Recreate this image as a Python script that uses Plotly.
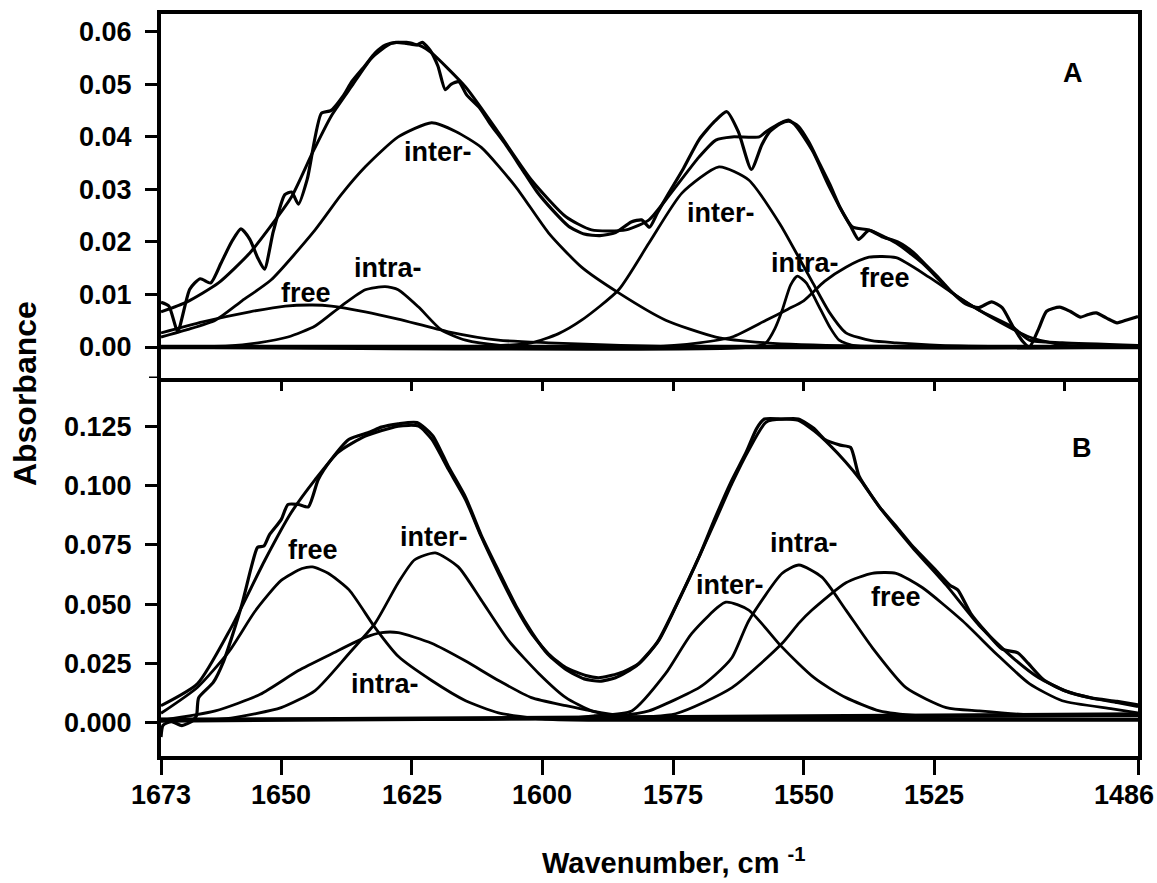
import plotly.graph_objects as go

# ---------------- Panel A data (wavenumber, absorbance) ----------------
a_meas_wn = [1673, 1671.5, 1669.8, 1667.5, 1665.5, 1663.5, 1661.5, 1659.5, 1657.7, 1656, 1654.5, 1653.2,
             1651.5, 1649.3, 1648, 1646.7, 1645, 1642.3, 1640.5, 1638, 1636.5, 1634, 1632, 1630, 1628, 1626,
             1624, 1623, 1621.5, 1620, 1618.6, 1617.5, 1616, 1614.5, 1612, 1610, 1607, 1604, 1601, 1598,
             1595, 1592, 1589, 1586, 1583, 1581, 1579.5, 1578, 1576, 1573, 1570, 1567, 1564.7, 1562.5, 1560,
             1558, 1556.5, 1554.5, 1552.8, 1551, 1549, 1547, 1545, 1543, 1541, 1539.5, 1537.5, 1535, 1532,
             1529, 1527, 1524, 1521.5, 1519, 1516.5, 1514, 1512, 1510, 1508, 1506.8, 1505, 1503.5, 1501,
             1499, 1497, 1495.5, 1494, 1492, 1490, 1488, 1486]
a_meas_abs = [0.0085, 0.0078, 0.0030, 0.0110, 0.0130, 0.0122, 0.0160, 0.0200, 0.0225, 0.0205, 0.0170, 0.0148,
              0.0220, 0.0290, 0.0295, 0.0272, 0.0320, 0.0445, 0.0450, 0.0480, 0.0505, 0.0535, 0.0560, 0.0575,
              0.0580, 0.0578, 0.0575, 0.0580, 0.0565, 0.0535, 0.0490, 0.0500, 0.0505, 0.0480, 0.0455, 0.0425,
              0.0385, 0.0340, 0.0295, 0.0260, 0.0230, 0.0215, 0.0212, 0.0218, 0.0238, 0.0242, 0.0228, 0.0255,
              0.0290, 0.0340, 0.0395, 0.0430, 0.0448, 0.0410, 0.0338, 0.0385, 0.0410, 0.0425, 0.0430, 0.0420,
              0.0390, 0.0350, 0.0310, 0.0265, 0.0230, 0.0205, 0.0222, 0.0210, 0.0200, 0.0180, 0.0160, 0.0130,
              0.0103, 0.0082, 0.0075, 0.0086, 0.0075, 0.0040, 0.0010, 0.0000, 0.0035, 0.0068, 0.0076, 0.0068,
              0.0057, 0.0062, 0.0065, 0.0055, 0.0046, 0.0052, 0.0058]

a_sum_wn = [1673, 1668, 1662, 1656, 1652, 1648, 1644, 1640.4, 1636.6, 1632.7, 1628.9, 1626, 1623, 1621.2,
            1614.7, 1608.4, 1602.1, 1595.5, 1590.6, 1584, 1579.6, 1576.4, 1570, 1566.8, 1563.7, 1558.5, 1557.2,
            1552.8, 1548.4, 1545.1, 1540.7, 1537.5, 1532.3, 1527.3, 1521.5, 1516.4, 1510, 1506.8, 1500.5, 1486]
a_sum_abs = [0.0067, 0.0086, 0.0122, 0.0179, 0.0230, 0.0286, 0.0370, 0.0440, 0.0495, 0.0550, 0.0578, 0.0580,
             0.0572, 0.0560, 0.0495, 0.0408, 0.0318, 0.0248, 0.0223, 0.0223, 0.0242, 0.0280, 0.0362, 0.0394,
             0.0400, 0.0400, 0.0410, 0.0432, 0.0375, 0.0305, 0.0229, 0.0223, 0.0198, 0.0160, 0.0103, 0.0070,
             0.0038, 0.0013, 0.0008, 0.0003]

a_inter1_wn = [1673, 1668, 1662.6, 1657.5, 1651.9, 1643.5, 1638.5, 1633.9, 1627.6, 1621.2, 1616.5, 1611.7,
               1605.1, 1598.8, 1592.5, 1585.4, 1576.4, 1566.8, 1557.2, 1540, 1486]
a_inter1_abs = [0.0019, 0.0033, 0.0051, 0.0088, 0.0128, 0.0223, 0.0290, 0.0343, 0.0400, 0.0427, 0.0410, 0.0380,
                0.0305, 0.0217, 0.0152, 0.0103, 0.0051, 0.0019, 0.0008, 0.0002, 0.0]

a_intra1_wn = [1673, 1660, 1654.4, 1648.7, 1643.5, 1638.5, 1633.9, 1630.1, 1627.6, 1623.7, 1619.3, 1614.7,
               1608, 1600, 1486]
a_intra1_abs = [0.0, 0.0002, 0.0008, 0.0019, 0.0040, 0.0078, 0.0109, 0.0115, 0.0109, 0.0076, 0.0032, 0.0013,
                0.0003, 0.0, 0.0]

a_free1_wn = [1673, 1665, 1656, 1649.2, 1644, 1640.4, 1633.9, 1627.6, 1618, 1608.4, 1598.8, 1585, 1570, 1486]
a_free1_abs = [0.0027, 0.0048, 0.0067, 0.0078, 0.0080, 0.0078, 0.0067, 0.0053, 0.0029, 0.0013, 0.0008, 0.0003,
               0.0, 0.0]

a_inter2_wn = [1673, 1610, 1602.1, 1597, 1592.5, 1585.4, 1579.6, 1573.3, 1566.2, 1560.5, 1554.4, 1550.9,
               1548.4, 1545, 1541.9, 1537, 1532.3, 1520, 1486]
a_inter2_abs = [0.0, 0.0002, 0.0008, 0.0025, 0.0051, 0.0109, 0.0198, 0.0293, 0.0343, 0.0318, 0.0232, 0.0170,
                0.0125, 0.0065, 0.0027, 0.0012, 0.0008, 0.0002, 0.0]

a_intra2_wn = [1673, 1560, 1557.2, 1555.5, 1554.1, 1552.5, 1551.2, 1549.5, 1547, 1545, 1543.2, 1540, 1486]
a_intra2_abs = [0.0, 0.0, 0.0008, 0.0035, 0.0070, 0.0118, 0.0135, 0.0122, 0.0076, 0.0038, 0.0013, 0.0002, 0.0]

a_free2_wn = [1673, 1580, 1570, 1563.7, 1557.2, 1553, 1550, 1546, 1541.9, 1537.5, 1532.3, 1526, 1519.6,
              1513.1, 1506.8, 1500.5, 1486]
a_free2_abs = [0.0, 0.0, 0.0008, 0.0019, 0.0051, 0.0072, 0.0088, 0.0125, 0.0152, 0.0171, 0.0170, 0.0133,
               0.0090, 0.0051, 0.0019, 0.0004, 0.0]

a_base_wn = [1673, 1486]
a_base_abs = [0.0, 0.0]

# ---------------- Panel B data ----------------
b_meas_wn = [1673, 1672.6, 1671, 1669, 1667, 1666.2, 1665.8, 1663, 1661, 1659.6, 1657.5, 1655.7, 1654.5,
             1653.3, 1652.3, 1650, 1648.7, 1646.7, 1644.8, 1642.9, 1640.4, 1637, 1633, 1630.8, 1627.6, 1624,
             1621, 1618, 1614.7, 1611.7, 1608.4, 1605, 1602, 1599, 1595.5, 1592, 1589, 1586, 1582, 1578,
             1574.5, 1570, 1567, 1564, 1561, 1559, 1557.5, 1554, 1551, 1548, 1546, 1543, 1541, 1539.4, 1535.5,
             1532, 1529, 1525, 1522, 1520.5, 1518, 1515, 1512, 1509, 1507, 1504, 1500, 1495, 1490, 1486]
b_meas_abs = [-0.006, -0.001, 0.0005, -0.0012, 0.0008, 0.003, 0.0105, 0.017, 0.026, 0.035, 0.050, 0.0657,
              0.074, 0.0745, 0.079, 0.0856, 0.092, 0.092, 0.091, 0.1025, 0.111, 0.1195, 0.1225, 0.1246, 0.126,
              0.1265, 0.121, 0.108, 0.095, 0.079, 0.064, 0.049, 0.038, 0.029, 0.0225, 0.0185, 0.0175, 0.019,
              0.024, 0.034, 0.049, 0.070, 0.086, 0.101, 0.114, 0.124, 0.128, 0.128, 0.128, 0.124, 0.1195, 0.117,
              0.116, 0.104, 0.091, 0.082, 0.074, 0.065, 0.058, 0.056, 0.046, 0.038, 0.031, 0.0295, 0.025, 0.018,
              0.0135, 0.0105, 0.009, 0.0075]

b_sum_wn = [1673, 1666, 1659.6, 1653.1, 1648.1, 1643.5, 1639.1, 1633.9, 1627.6, 1623.7, 1621.2, 1618, 1614.7,
            1611.7, 1608.4, 1605.1, 1602.1, 1598.8, 1595.5, 1591.7, 1589.2, 1585.4, 1581.5, 1577.7, 1574.5, 1570,
            1566.8, 1563.7, 1560.5, 1557.2, 1554.1, 1551, 1548, 1545, 1542, 1539, 1535.5, 1529.2, 1522.7,
            1516.4, 1510, 1505, 1500, 1495, 1490, 1486]
b_sum_abs = [0.0072, 0.0165, 0.040, 0.0686, 0.0885, 0.1025, 0.114, 0.1208, 0.125, 0.125, 0.1195, 0.1068, 0.094,
             0.0784, 0.063, 0.0487, 0.0377, 0.029, 0.0233, 0.0199, 0.019, 0.0208, 0.025, 0.0347, 0.0487, 0.070,
             0.0856, 0.101, 0.115, 0.1267, 0.128, 0.1275, 0.123, 0.117, 0.110, 0.102, 0.091, 0.074, 0.058, 0.041,
             0.0275, 0.019, 0.0135, 0.0105, 0.0085, 0.0068]

b_free1_wn = [1673, 1666, 1660, 1655, 1650, 1646, 1644, 1641, 1637, 1632, 1627.6, 1621.2, 1614.7, 1608.4, 1600,
              1590, 1486]
b_free1_abs = [0.004, 0.015, 0.030, 0.047, 0.060, 0.065, 0.0657, 0.063, 0.056, 0.040, 0.028, 0.0178, 0.0093,
               0.0042, 0.0015, 0.001, 0.001]

b_intra1_wn = [1673, 1662.6, 1654, 1646.7, 1640.4, 1633.9, 1630.8, 1627.6, 1621.2, 1614.7, 1608.4, 1602.1,
               1595.5, 1590.6, 1585, 1578, 1570, 1486]
b_intra1_abs = [0.001, 0.005, 0.012, 0.022, 0.029, 0.036, 0.038, 0.038, 0.0335, 0.026, 0.0178, 0.0106, 0.0072,
                0.005, 0.003, 0.0018, 0.0015, 0.0015]

b_inter1_wn = [1673, 1665, 1659.6, 1650, 1643.5, 1637.1, 1632, 1627.6, 1624.5, 1620.5, 1616.1, 1611.7, 1606.5,
               1600.7, 1595.5, 1590.6, 1585, 1578, 1570, 1486]
b_inter1_abs = [0.001, 0.0012, 0.002, 0.0064, 0.0136, 0.029, 0.042, 0.059, 0.0686, 0.0716, 0.0657, 0.0517,
                0.0347, 0.0208, 0.0106, 0.005, 0.0025, 0.0018, 0.0015, 0.0015]

b_inter2_wn = [1673, 1595, 1590, 1582.9, 1576.4, 1571.4, 1564.9, 1560.5, 1554.4, 1551, 1548, 1545, 1541.9,
               1535.5, 1528, 1520, 1510, 1486]
b_inter2_abs = [0.0015, 0.002, 0.003, 0.005, 0.0208, 0.0377, 0.0508, 0.0475, 0.0325, 0.025, 0.019, 0.0145,
                0.0106, 0.005, 0.003, 0.0028, 0.0028, 0.003]

b_intra2_wn = [1673, 1595, 1585, 1579.6, 1570, 1567, 1563.7, 1560.5, 1554.1, 1550.9, 1546.5, 1541.9, 1536.9,
               1530.4, 1522.7, 1516.4, 1508, 1500, 1490, 1486]
b_intra2_abs = [0.0015, 0.002, 0.003, 0.005, 0.0148, 0.020, 0.0275, 0.043, 0.063, 0.0665, 0.0614, 0.0475,
                0.0318, 0.0148, 0.0064, 0.005, 0.0035, 0.003, 0.003, 0.003]

b_free2_wn = [1673, 1590, 1574.5, 1563.7, 1554.1, 1550.9, 1548.4, 1541.9, 1536.9, 1532.3, 1527.3, 1519.6,
              1513.1, 1506.8, 1500.5, 1490.9, 1486]
b_free2_abs = [0.0015, 0.002, 0.0038, 0.0148, 0.0335, 0.042, 0.0475, 0.059, 0.063, 0.063, 0.057, 0.043, 0.029,
               0.0165, 0.0093, 0.0059, 0.0042]

b_base_wn = [1673, 1486]
b_base_abs = [0.001, 0.0035]

# ---------------- Labels ----------------
a_label_text = ["A", "inter-", "intra-", "free", "inter-", "intra-", "free"]
a_label_wn = [1498.5, 1620.0, 1629.5, 1645.2, 1565.8, 1549.7, 1534.4]
a_label_abs = [0.0522, 0.0371, 0.0150, 0.0103, 0.0255, 0.0160, 0.0131]

b_label_text = ["B", "free", "inter-", "intra-", "inter-", "intra-", "free"]
b_label_wn = [1496.8, 1644.0, 1620.7, 1630.1, 1564.1, 1549.9, 1532.3]
b_label_abs = [0.1160, 0.0729, 0.0784, 0.0165, 0.0580, 0.0758, 0.0530]

a_ytick_vals = [0.0, 0.01, 0.02, 0.03, 0.04, 0.05, 0.06]
a_ytick_text = ["0.00", "0.01", "0.02", "0.03", "0.04", "0.05", "0.06"]
a_y_min, a_y_max = -0.0059, 0.0634
b_ytick_vals = [0.0, 0.025, 0.05, 0.075, 0.1, 0.125]
b_ytick_text = ["0.000", "0.025", "0.050", "0.075", "0.100", "0.125"]
b_y_min, b_y_max = -0.014, 0.1453
x_tick_vals = [1673, 1650, 1625, 1600, 1575, 1550, 1525, 1486]
x_tick_text = ["1673", "1650", "1625", "1600", "1575", "1550", "1525", "1486"]
x_min, x_max = 1486, 1673

# ---------------- Figure ----------------
FONT = "Liberation Sans, Arial, sans-serif"
fig = go.Figure()

def add_line(xs, ys, xa, ya, width=3.0):
    assert len(xs) == len(ys)
    fig.add_trace(go.Scatter(x=xs, y=ys, xaxis=xa, yaxis=ya, mode="lines",
                             line=dict(color="black", width=width, shape="spline", smoothing=0.6),
                             showlegend=False, hoverinfo="skip"))

for xs, ys, w in [(a_base_wn, a_base_abs, 4.5), (a_free1_wn, a_free1_abs, 2.8), (a_intra1_wn, a_intra1_abs, 2.8),
                  (a_inter1_wn, a_inter1_abs, 2.8), (a_inter2_wn, a_inter2_abs, 2.8),
                  (a_intra2_wn, a_intra2_abs, 2.8), (a_free2_wn, a_free2_abs, 2.8),
                  (a_sum_wn, a_sum_abs, 3.0), (a_meas_wn, a_meas_abs, 3.2)]:
    add_line(xs, ys, "x", "y", w)

for xs, ys, w in [(b_base_wn, b_base_abs, 4.5), (b_free1_wn, b_free1_abs, 2.8), (b_intra1_wn, b_intra1_abs, 2.8),
                  (b_inter1_wn, b_inter1_abs, 2.8), (b_inter2_wn, b_inter2_abs, 2.8),
                  (b_intra2_wn, b_intra2_abs, 2.8), (b_free2_wn, b_free2_abs, 2.8),
                  (b_sum_wn, b_sum_abs, 3.0), (b_meas_wn, b_meas_abs, 3.2)]:
    add_line(xs, ys, "x2", "y2", w)

label_font = dict(family=FONT, size=27, color="black", weight="bold")
annotations = []
for t, xv, yv in zip(a_label_text, a_label_wn, a_label_abs):
    annotations.append(dict(text=t, x=xv, y=yv, xref="x", yref="y", showarrow=False, font=label_font))
for t, xv, yv in zip(b_label_text, b_label_wn, b_label_abs):
    annotations.append(dict(text=t, x=xv, y=yv, xref="x2", yref="y2", showarrow=False, font=label_font))
annotations.append(dict(text="Absorbance", x=-0.139, y=0.488, xref="paper", yref="paper", showarrow=False,
                        textangle=-90, xanchor="center", yanchor="middle",
                        font=dict(family=FONT, size=32, color="black", weight="bold")))
annotations.append(dict(text="Wavenumber, cm <sup>-1</sup>", x=0.525, y=-0.141, xref="paper", yref="paper",
                        showarrow=False, xanchor="center", yanchor="middle",
                        font=dict(family=FONT, size=29, color="black", weight="bold")))

# bottom-axis tick labels drawn as text so the last one ("1486") can sit inside the page edge
for v, t in zip(x_tick_vals, x_tick_text):
    is_last = (v == x_min)
    annotations.append(dict(text=t, x=v, y=-0.052, xref="x2", yref="paper", showarrow=False,
                            xanchor="right" if is_last else "center", xshift=18 if is_last else 0,
                            yanchor="middle", font=label_font))

# extra tick mark at the bottom of panel A's y axis
shapes = [dict(type="line", xref="paper", yref="y", x0=-12.0 / 977.0, x1=0, y0=a_y_min, y1=a_y_min,
               line=dict(color="black", width=3))]

split = 378.0 / 742.0
tickfont = dict(family=FONT, size=27, color="black", weight="bold")
common_axis = dict(showline=True, linecolor="black", linewidth=4, showgrid=False, automargin=False,
                   zeroline=False, ticks="outside", tickcolor="black", tickwidth=3)

fig.update_layout(
    width=1157, height=883, autosize=False,
    margin=dict(l=161, r=19, t=14, b=127, autoexpand=False),
    plot_bgcolor="white", paper_bgcolor="white",
    showlegend=False,
    annotations=annotations,
    shapes=shapes,
    xaxis=dict(common_axis, mirror=True, domain=[0, 1], anchor="y", range=[x_max, x_min], tickmode="linear",
               tick0=1500, dtick=25, ticklen=9, showticklabels=False),
    yaxis=dict(common_axis, mirror=True, domain=[split, 1], anchor="x", range=[a_y_min, a_y_max],
               tickmode="array", tickvals=a_ytick_vals, ticktext=a_ytick_text, ticklen=12, tickfont=tickfont,
               ticklabelstandoff=8),
    xaxis2=dict(common_axis, mirror=False, domain=[0, 1], anchor="y2", range=[x_max, x_min], tickmode="array",
                tickvals=x_tick_vals, ticklen=15, showticklabels=False),
    yaxis2=dict(common_axis, mirror=True, domain=[0, split], anchor="x2", range=[b_y_min, b_y_max],
                tickmode="array", tickvals=b_ytick_vals, ticktext=b_ytick_text, ticklen=12, tickfont=tickfont,
                ticklabelstandoff=8),
)

fig.write_html("out.html")
